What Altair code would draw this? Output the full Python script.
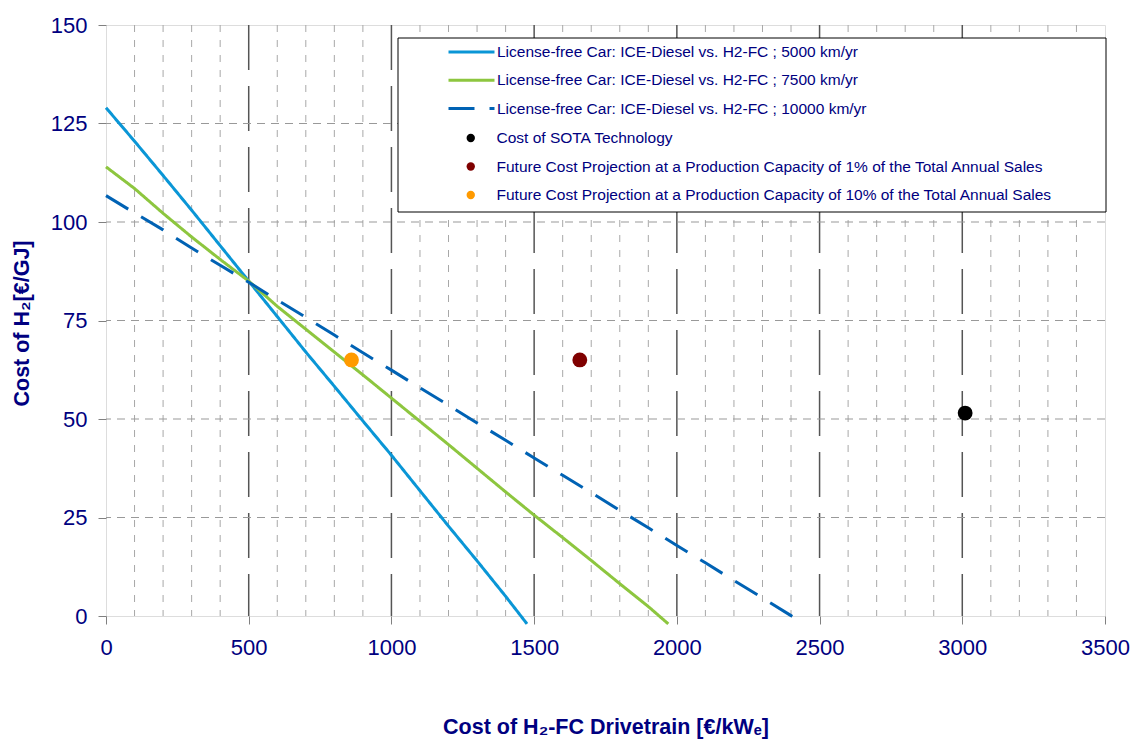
import altair as alt
import pandas as pd

NAVY = "#000080"
FONT = "Liberation Sans"

# ---- series definitions -------------------------------------------------
line_labels = [
    "License-free Car: ICE-Diesel  vs. H2-FC ; 5000 km/yr",
    "License-free Car: ICE-Diesel  vs. H2-FC ; 7500 km/yr",
    "License-free Car: ICE-Diesel  vs. H2-FC ; 10000 km/yr",
]
line_colors = ["#0A96D6", "#8DC63F", "#0062B4"]
point_labels = [
    "Cost of SOTA Technology",
    "Future Cost Projection at a Production Capacity of 1% of the Total Annual Sales",
    "Future Cost Projection at a Production Capacity of 10% of the Total Annual Sales",
]
point_colors = ["#000000", "#7F0000", "#FF9A00"]

# break-even H2 cost [EUR/GJ] against drivetrain cost [EUR/kWe]
drivetrain_5000 = [0, 100, 200, 300, 400, 500, 600, 700, 800, 900, 1000, 1100, 1200, 1300, 1400, 1475]
h2_5000 = [129, 120.5, 111.8, 103, 94, 85, 76, 67, 58.3, 49.5, 40.8, 31.8, 22.8, 14, 5, -2]

drivetrain_7500 = [0, 100, 200, 300, 400, 500, 600, 700, 800, 900, 1000, 1100, 1200, 1300, 1400,
                   1500, 1600, 1700, 1800, 1900, 1970]
h2_7500 = [114, 108.5, 102.2, 96.2, 90.5, 85, 78.6, 72.8, 67, 61.2, 55.3, 49.4, 43.5, 37.5, 31.5,
           25.6, 19.9, 14.1, 8.2, 2.4, -2]

drivetrain_10000 = [0, 100, 200, 300, 400, 500, 600, 700, 800, 900, 1000, 1100, 1200, 1300, 1400,
                    1500, 1600, 1700, 1800, 1900, 2000, 2100, 2200, 2300, 2400, 2440]
h2_10000 = [106.7, 102.3, 98, 93.4, 89, 84.7, 80.2, 75.8, 71.3, 66.8, 62.4, 57.9, 53.5, 49, 44.6,
            40.1, 35.7, 31.3, 26.8, 22.4, 17.9, 13.5, 9, 4.6, 0.1, -1.8]

# technology cost points
drivetrain_pts = [3010, 1660, 860]
h2_pts = [51.5, 65, 65]

# axis ticks and grid positions
x_ticks = [0, 500, 1000, 1500, 2000, 2500, 3000, 3500]
x_minor = [v for v in range(100, 3500, 100) if v % 500 != 0]
x_major = [500, 1000, 1500, 2000, 2500, 3000]
y_ticks = [0, 25, 50, 75, 100, 125, 150]
y_grid = [25, 50, 75, 100, 125]

# ---- tables -------------------------------------------------------------
lines_df = pd.concat([
    pd.DataFrame({"x": drivetrain_5000, "y": h2_5000, "series": line_labels[0]}),
    pd.DataFrame({"x": drivetrain_7500, "y": h2_7500, "series": line_labels[1]}),
    pd.DataFrame({"x": drivetrain_10000, "y": h2_10000, "series": line_labels[2]}),
], ignore_index=True)
points_df = pd.DataFrame({"x": drivetrain_pts, "y": h2_pts, "series": point_labels})

# ---- scales / axes ------------------------------------------------------
xs = alt.Scale(domain=[0, 3500], nice=False, zero=False)
ys = alt.Scale(domain=[0, 150], nice=False)

x_axis = alt.Axis(
    values=x_ticks, format="d", grid=False, domain=False,
    tickSize=8, tickColor="#808080", tickWidth=1,
    labelFont=FONT, labelFontSize=22, labelColor=NAVY, labelPadding=13,
    labelFlush=False, labelOverlap=False,
    title="Cost of H₂-FC Drivetrain [€/kWₑ]",
    titleFont=FONT, titleFontSize=21.5, titleFontWeight="bold", titleColor=NAVY,
    titleY=111, titleBaseline="middle",
)
y_axis = alt.Axis(
    values=y_ticks, grid=False, domain=False,
    tickSize=8, tickColor="#808080", tickWidth=1,
    labelFont=FONT, labelFontSize=22, labelColor=NAVY, labelPadding=11,
    labelOverlap=False,
    title="Cost of H₂[€/GJ]",
    titleFont=FONT, titleFontSize=21.5, titleFontWeight="bold", titleColor=NAVY,
    titleX=-84, titleY=298, titleAngle=270, titleAlign="center", titleBaseline="middle",
)

common_legend = dict(
    title=None, orient="none", direction="vertical", padding=0, clipHeight=16,
    labelFont=FONT, labelFontSize=15.5, labelColor=NAVY, labelLimit=800,
    labelBaseline="middle",
)
line_legend = alt.Legend(
    legendX=341, legendY=19, rowPadding=11.3, symbolType="stroke", symbolSize=2116,
    symbolStrokeWidth=3, labelOffset=1, **common_legend,
)
point_legend = alt.Legend(
    legendX=357, legendY=105, rowPadding=11.5, symbolType="circle", symbolSize=70,
    symbolStrokeWidth=0, symbolOpacity=1, labelOffset=18, **common_legend,
)

# ---- layers -------------------------------------------------------------
minor_grid = alt.Chart(pd.DataFrame({"x": x_minor})).mark_rule(
    color="#a8a8a8", strokeWidth=1, strokeDash=[7, 8]
).encode(x=alt.X("x:Q", scale=xs))

major_grid = alt.Chart(pd.DataFrame({"x": x_major})).mark_rule(
    color="#555555", strokeWidth=1.5, strokeDash=[45, 16]
).encode(x=alt.X("x:Q", scale=xs))

h_grid = alt.Chart(pd.DataFrame({"y": y_grid})).mark_rule(
    color="#999999", strokeWidth=1, strokeDash=[8, 6]
).encode(y=alt.Y("y:Q", scale=ys))

legend_frame = alt.Chart(alt.Data(values=[{}])).mark_rect(
    fill="white", stroke="#000000", strokeWidth=1
).encode(x=alt.value(292), x2=alt.value(1000), y=alt.value(13), y2=alt.value(187))

lines = alt.Chart(lines_df).mark_line().encode(
    x=alt.X("x:Q", scale=xs, axis=x_axis),
    y=alt.Y("y:Q", scale=ys, axis=y_axis),
    color=alt.Color("series:N", scale=alt.Scale(domain=line_labels, range=line_colors),
                    legend=line_legend),
    strokeDash=alt.StrokeDash(
        "series:N",
        scale=alt.Scale(domain=line_labels, range=[[1, 0], [1, 0], [26, 15]]),
        legend=line_legend,
    ),
    strokeWidth=alt.StrokeWidth(
        "series:N",
        scale=alt.Scale(domain=line_labels, range=[3, 3, 5]),
        legend=line_legend,
    ),
)

points = alt.Chart(points_df).mark_circle(size=220, opacity=1).encode(
    x=alt.X("x:Q", scale=xs, axis=x_axis),
    y=alt.Y("y:Q", scale=ys, axis=y_axis),
    fill=alt.Fill("series:N", scale=alt.Scale(domain=point_labels, range=point_colors),
                  legend=point_legend),
)

chart = alt.layer(minor_grid, major_grid, h_grid, legend_frame, lines, points).properties(
    width=999,
    height=591,
    autosize="none",
    padding={"left": 106, "top": 25, "right": 31, "bottom": 126},
    background="white",
).configure_view(
    stroke="#6e6e6e", strokeDash=[3, 3], strokeWidth=1.5
).configure(font=FONT)

chart.save("out.html", embed_options={"renderer": "svg", "actions": False})
